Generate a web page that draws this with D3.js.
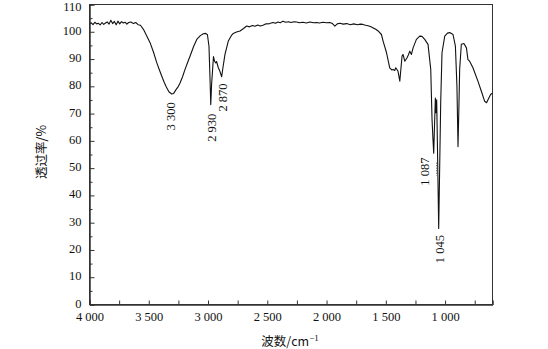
<!DOCTYPE html>
<html><head><meta charset="utf-8">
<script src="https://cdn.jsdelivr.net/npm/d3@7/dist/d3.min.js"></script>
<style>
html,body{margin:0;padding:0;background:#fff;}
svg{display:block;}
</style></head>
<body>
<svg id="chart" width="548" height="349"></svg>
<script>
// ---- data ----
const wavenumbers = [4000,3985,3970,3955,3940,3925,3910,3895,3880,3865,3850,3835,3820,3805,3790,3775,3760,3745,3730,3715,3700,3685,3670,3650,3630,3610,3590,
3570,3545,3516,3489,3460,3432,3410,3390,3370,3354,3330,3306,3290,3270,3250,3236,3215,3194,3170,3152,3120,3095,3065,3040,3020,3005,
2992,2983,2977,2970,2954,2945,2935,2928,2913,2899,2885,2874,2857,2829,2800,2787,2760,2730,2700,2674,2650,2625,2604,2580,2560,2537,
2510,2480,2452,2430,2410,2390,2368,2345,2320,2300,2275,2253,2230,2200,2170,2140,2110,2084,2060,2030,2000,1972,1950,1930,1910,1888,
1860,1830,1800,1770,1740,1715,1694,1670,1650,1630,1610,1585,1565,1537,1523,1494,1467,1450,1439,1425,1416,1397,1382,1363,1355,1340,
1321,1310,1298,1284,1270,1242,1214,1195,1172,1144,1121,1110,1102,1096,1089,1082,1077,1071,1064,1054,1046,1037,1026,1003,980,961,
933,913,900,891,884,877,863,841,820,807,793,765,723,694,666,650,638,616,602];
const transmittance = [102.8,103.3,102.6,103.5,102.9,103.1,102.5,103.4,102.7,103.2,103.6,102.8,104.2,103.0,103.8,102.6,103.9,102.9,103.7,103.2,103.5,102.8,103.4,103.6,103.0,103.4,102.6,
102.4,100.9,98.4,96.0,92.5,88.6,86.0,83.7,81.5,79.9,78.0,77.2,77.4,78.8,80.0,81.2,83.5,86.2,89.0,91.0,94.8,97.2,98.6,99.3,99.4,98.9,
94.7,82.5,73.3,80.6,90.9,89.2,88.6,89.1,86.8,85.4,83.5,86.9,91.7,96.6,98.8,99.4,99.9,100.3,101.2,102.1,101.8,102.3,102.0,102.5,102.1,102.4,
102.9,103.0,103.4,103.1,103.6,103.3,103.9,103.5,103.7,103.4,103.7,103.6,103.3,103.5,103.2,103.6,103.3,103.4,103.2,103.5,103.3,103.4,103.0,102.1,102.9,103.1,
102.8,103.0,102.6,102.9,102.6,102.8,102.7,102.4,102.2,101.9,101.5,100.9,100.3,99.0,96.6,92.3,86.8,86.0,86.2,85.8,86.8,85.5,81.9,91.1,91.7,89.2,
90.5,91.5,92.9,91.7,94.1,97.2,98.4,98.3,97.2,95.4,86.2,67.7,60.4,55.5,65.9,75.7,70.3,75.1,56.7,27.9,49.3,74.0,92.3,98.4,99.5,99.7,
99.0,94.7,80.0,57.9,71.4,86.2,95.4,95.7,94.1,89.8,89.2,86.8,81.9,78.2,74.5,74.0,75.1,77.0,77.5];

const xMajorTicks = [4000,3500,3000,2500,2000,1500,1000];
const xMinorTicks = [3750,3250,2750,2250,1750,1250,750];
const yMajorTicks = [0,10,20,30,40,50,60,70,80,90,100,110];
const yMinorTicks = [5,15,25,35,45,55,65,75,85,95,105];

const peakLabels = ["3 300","2 930","2 870","1 087","1 045"];
const peakLabelWn = [3310,2968,2876,1166,1045];
const peakLabelT = [69.0,64.8,75.9,48.7,20.3];

const xTitle = "波数/cm";
const xTitleSup = "−1";
const yTitle = "透过率/%";

// ---- chart ----
const svg = d3.select("#chart");
const L = 89.5, R = 492.5, T = 4.5, B = 304.5;
const x = d3.scaleLinear().domain([4000, 600]).range([L, R]);
const y = d3.scaleLinear().domain([0, 110]).range([B, T]);
const serif = "'Liberation Serif','Times New Roman',serif";
const fmt = v => d3.format(",")(v).replace(",", " ");

// frame
svg.append("rect").attr("x", L).attr("y", T).attr("width", R - L).attr("height", B - T)
  .attr("fill", "none").attr("stroke", "#333").attr("stroke-width", 1);

// spectrum
const pts = wavenumbers.map((w, i) => [w, transmittance[i]]);
svg.append("path").datum(pts)
  .attr("fill", "none").attr("stroke", "#111").attr("stroke-width", 1.1)
  .attr("stroke-linejoin", "round")
  .attr("d", d3.line().x(d => x(d[0])).y(d => y(d[1])));

// axes
const xAxis = d3.axisBottom(x).tickValues(xMajorTicks).tickSize(-4).tickPadding(8)
  .tickFormat(v => fmt(v));
const gx = svg.append("g").attr("transform", `translate(0,${B})`).call(xAxis);
const gxm = svg.append("g").attr("transform", `translate(0,${B})`)
  .call(d3.axisBottom(x).tickValues(xMinorTicks).tickSize(-4).tickFormat(""));
const yAxis = d3.axisLeft(y).tickValues(yMajorTicks).tickSize(-5).tickPadding(8);
const gy = svg.append("g").attr("transform", `translate(${L},0)`).call(yAxis);
const gym = svg.append("g").attr("transform", `translate(${L},0)`)
  .call(d3.axisLeft(y).tickValues(yMinorTicks).tickSize(-3).tickFormat(""));
[gx, gxm, gy, gym].forEach(g => {
  g.select(".domain").attr("stroke", "#333");
  g.selectAll(".tick line").attr("stroke", "#333");
  g.selectAll("text").attr("font-family", serif).attr("font-size", 12.5).attr("fill", "#111");
});
gy.selectAll(".tick text").attr("dy", d => d === 110 ? "0.45em" : "0.2em");

// peak labels
peakLabels.forEach((t, i) => {
  const px = x(peakLabelWn[i]), py = y(peakLabelT[i]);
  svg.append("text").attr("transform", `translate(${px},${py}) rotate(-90)`)
    .attr("text-anchor", "middle").attr("dominant-baseline", "central")
    .attr("font-family", serif).attr("font-size", 12.5).attr("fill", "#111").text(t);
});
// small dotted leader near 1 087
svg.append("line").attr("x1", x(1071)).attr("x2", x(1071)).attr("y1", y(52)).attr("y2", y(47.3))
  .attr("stroke", "#333").attr("stroke-width", 1).attr("stroke-dasharray", "1,1.5");

// titles
const xt = svg.append("text").attr("x", 290).attr("y", 346).attr("text-anchor", "middle")
  .attr("font-family", "'Noto Sans CJK SC', sans-serif").attr("font-size", 12.5).attr("fill", "#111");
xt.append("tspan").text(xTitle);
xt.append("tspan").attr("font-family", serif).attr("font-size", 9).attr("dy", -5).text(xTitleSup);

svg.append("text").attr("transform", "translate(40,152) rotate(-90)")
  .attr("text-anchor", "middle").attr("dominant-baseline", "central")
  .attr("font-family", "'Noto Sans CJK SC', sans-serif").attr("font-size", 12.5).attr("fill", "#111")
  .text(yTitle);
</script>
</body></html>
